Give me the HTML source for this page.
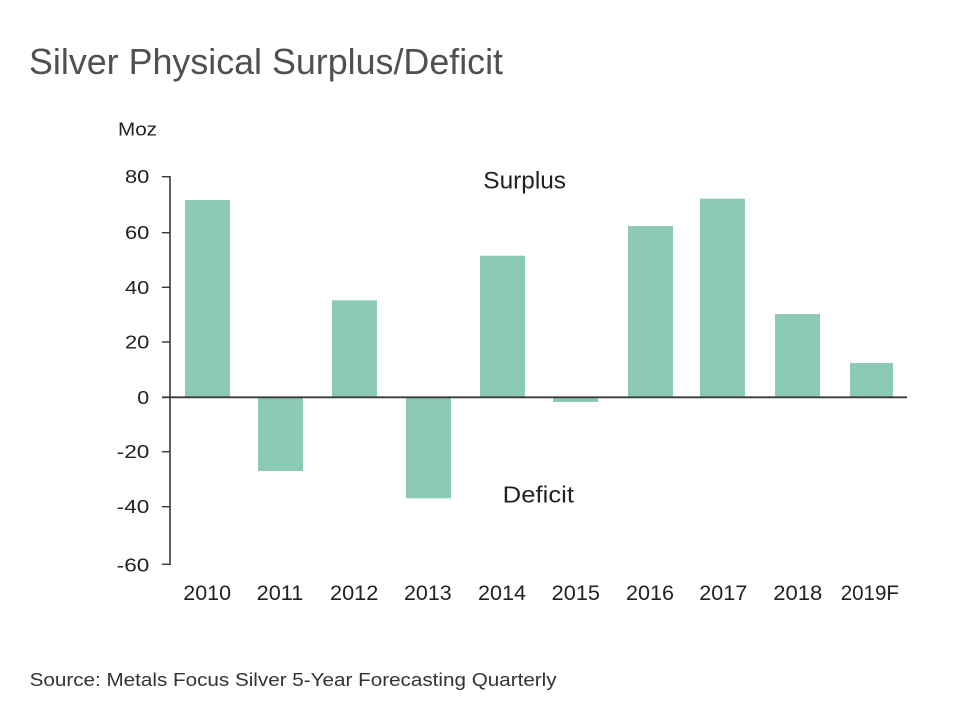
<!DOCTYPE html>
<html>
<head>
<meta charset="utf-8">
<style>
  html, body { margin: 0; padding: 0; background: #ffffff; }
  svg { display: block; }
  text { font-family: "Liberation Sans", Arial, sans-serif; }
</style>
</head>
<body>
<svg width="953" height="705" viewBox="0 0 953 705" xmlns="http://www.w3.org/2000/svg">
  <rect x="0" y="0" width="953" height="705" fill="#ffffff"/>

  <!-- Title -->
  <text x="29" y="74" font-size="36" fill="#505050" textLength="474" lengthAdjust="spacingAndGlyphs">Silver Physical Surplus/Deficit</text>

  <!-- Unit -->
  <text x="118" y="135.7" font-size="18" fill="#222" textLength="39" lengthAdjust="spacingAndGlyphs">Moz</text>

  <!-- Bars -->
  <g fill="#8dcab5">
    <rect x="185" y="200" width="45" height="197.3"/>
    <rect x="258" y="397.3" width="45" height="73.7"/>
    <rect x="332" y="300.3" width="45" height="97"/>
    <rect x="406" y="397.3" width="45" height="101"/>
    <rect x="480" y="255.7" width="45" height="141.6"/>
    <rect x="553" y="397.3" width="45" height="4.7"/>
    <rect x="628" y="226" width="45" height="171.3"/>
    <rect x="700" y="198.7" width="45" height="198.6"/>
    <rect x="775" y="314" width="45" height="83.3"/>
    <rect x="850" y="363" width="43" height="34.3"/>
  </g>

  <!-- Axes -->
  <g stroke="#3a3a3a" fill="none">
    <line x1="170" y1="176" x2="170" y2="565" stroke-width="1.6"/>
    <line x1="162" y1="176.7" x2="170" y2="176.7" stroke-width="1.4"/>
    <line x1="162" y1="232.7" x2="170" y2="232.7" stroke-width="1.4"/>
    <line x1="162" y1="287.3" x2="170" y2="287.3" stroke-width="1.4"/>
    <line x1="162" y1="342" x2="170" y2="342" stroke-width="1.4"/>
    <line x1="162" y1="451.7" x2="170" y2="451.7" stroke-width="1.4"/>
    <line x1="162" y1="506.7" x2="170" y2="506.7" stroke-width="1.4"/>
    <line x1="162" y1="564.3" x2="170" y2="564.3" stroke-width="1.4"/>
    <line x1="162" y1="397.3" x2="907" y2="397.3" stroke-width="1.8"/>
  </g>

  <!-- Y tick labels -->
  <g font-size="18" fill="#222">
    <text x="125" y="183.2" textLength="24.3" lengthAdjust="spacingAndGlyphs">80</text>
    <text x="125" y="239.2" textLength="24.3" lengthAdjust="spacingAndGlyphs">60</text>
    <text x="125" y="293.8" textLength="24.3" lengthAdjust="spacingAndGlyphs">40</text>
    <text x="125" y="348.5" textLength="24.3" lengthAdjust="spacingAndGlyphs">20</text>
    <text x="137.3" y="403.8" textLength="11.9" lengthAdjust="spacingAndGlyphs">0</text>
    <text x="116.7" y="458.2" textLength="32.6" lengthAdjust="spacingAndGlyphs">-20</text>
    <text x="116.7" y="513.2" textLength="32.6" lengthAdjust="spacingAndGlyphs">-40</text>
    <text x="116.7" y="571.3" textLength="32.6" lengthAdjust="spacingAndGlyphs">-60</text>
  </g>

  <!-- X labels -->
  <g font-size="21" fill="#222">
    <text x="183.3" y="600" textLength="47.7" lengthAdjust="spacingAndGlyphs">2010</text>
    <text x="256.7" y="600" textLength="46.6" lengthAdjust="spacingAndGlyphs">2011</text>
    <text x="330" y="600" textLength="48.3" lengthAdjust="spacingAndGlyphs">2012</text>
    <text x="404" y="600" textLength="47.7" lengthAdjust="spacingAndGlyphs">2013</text>
    <text x="478" y="600" textLength="48" lengthAdjust="spacingAndGlyphs">2014</text>
    <text x="551.7" y="600" textLength="48.3" lengthAdjust="spacingAndGlyphs">2015</text>
    <text x="626" y="600" textLength="48" lengthAdjust="spacingAndGlyphs">2016</text>
    <text x="699.3" y="600" textLength="48" lengthAdjust="spacingAndGlyphs">2017</text>
    <text x="773.3" y="600" textLength="49" lengthAdjust="spacingAndGlyphs">2018</text>
    <text x="840.7" y="600" textLength="58.3" lengthAdjust="spacingAndGlyphs">2019F</text>
  </g>

  <!-- Annotations -->
  <text x="483.3" y="188.3" font-size="24" fill="#222" textLength="82.7" lengthAdjust="spacingAndGlyphs">Surplus</text>
  <text x="502.7" y="502.6" font-size="23" fill="#222" textLength="71.3" lengthAdjust="spacingAndGlyphs">Deficit</text>

  <!-- Source -->
  <text x="29.6" y="686" font-size="18" fill="#333" textLength="527" lengthAdjust="spacingAndGlyphs">Source: Metals Focus Silver 5-Year Forecasting Quarterly</text>
</svg>
</body>
</html>
